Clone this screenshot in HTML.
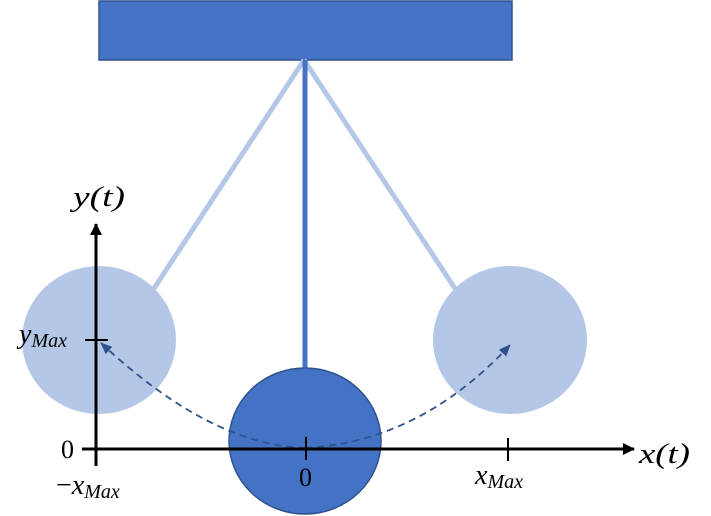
<!DOCTYPE html>
<html><head><style>html,body{margin:0;padding:0;background:#fff;width:711px;height:516px;overflow:hidden}</style></head>
<body>
<svg width="711" height="516" viewBox="0 0 711 516" xmlns="http://www.w3.org/2000/svg">
<defs>
<marker id="ab" markerWidth="12" markerHeight="12" refX="11" refY="6" orient="auto" markerUnits="userSpaceOnUse"><path d="M0,0 L12,6 L0,12 z" fill="#000"/></marker>
<marker id="ad" markerWidth="12" markerHeight="10" refX="11" refY="5" orient="auto" markerUnits="userSpaceOnUse"><path d="M0,0 L12,5 L0,10 z" fill="#2F528F"/></marker>
</defs>
<rect x="99" y="1" width="413" height="59" fill="#4472C4" stroke="#2F528F" stroke-width="1.5"/>
<line x1="304" y1="60" x2="153" y2="290" stroke="#B4C7E7" stroke-width="5"/>
<line x1="304" y1="60" x2="456" y2="290" stroke="#B4C7E7" stroke-width="5"/>
<line x1="305" y1="60" x2="305" y2="368" stroke="#4472C4" stroke-width="5"/>
<ellipse cx="99" cy="340" rx="77" ry="74" fill="#B4C7E7"/>
<ellipse cx="510" cy="340" rx="77" ry="74" fill="#B4C7E7"/>
<ellipse cx="305" cy="441" rx="76" ry="73" fill="#4472C4" stroke="#2F528F" stroke-width="1.5"/>
<path d="M305,448 Q210,445 101,343" fill="none" stroke="#2F528F" stroke-width="1.8" stroke-dasharray="7,5" marker-end="url(#ad)"/>
<path d="M305,448 Q420,442 510,345" fill="none" stroke="#2F528F" stroke-width="1.8" stroke-dasharray="7,5" marker-end="url(#ad)"/>
<line x1="96" y1="466" x2="96" y2="224" stroke="#000" stroke-width="3" marker-end="url(#ab)"/>
<line x1="82" y1="449" x2="634" y2="449" stroke="#000" stroke-width="3" marker-end="url(#ab)"/>
<line x1="85" y1="340" x2="108" y2="340" stroke="#000" stroke-width="2"/>
<line x1="306" y1="437" x2="306" y2="460" stroke="#000" stroke-width="2"/>
<line x1="508" y1="438" x2="508" y2="461" stroke="#000" stroke-width="2"/>
<g font-family="Liberation Serif, serif" font-style="italic" font-size="28" fill="#000">
<text x="73" y="206" textLength="52" lengthAdjust="spacingAndGlyphs">y(t)</text>
<text x="639" y="463" textLength="51" lengthAdjust="spacingAndGlyphs">x(t)</text>
<text x="19" y="343">y<tspan font-size="20" dy="4">Max</tspan></text>
<text x="475" y="484">x<tspan font-size="20" dy="4">Max</tspan></text>
<text x="56" y="494"><tspan font-style="normal">−</tspan>x<tspan font-size="20" dy="4">Max</tspan></text>
</g>
<g font-family="Liberation Serif, serif" font-size="26" fill="#000">
<text x="61" y="458">0</text>
<text x="299" y="486">0</text>
</g>
</svg>
</body></html>
